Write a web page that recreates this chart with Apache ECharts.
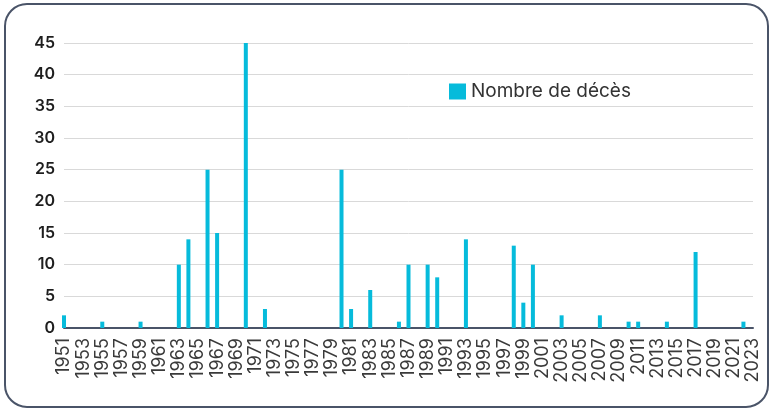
<!DOCTYPE html>
<html>
<head>
<meta charset="utf-8">
<title>Nombre de décès par année</title>
<script src="https://cdn.jsdelivr.net/npm/echarts@6/dist/echarts.min.js"></script>
<style>
  html, body { margin: 0; padding: 0; background: #ffffff; }
  #chart { width: 774px; height: 409px; }
</style>
</head>
<body>
<div id="chart"></div>
<script>
// Years shown on the category axis
const years = [];
for (let y = 1951; y <= 2023; y++) years.push(String(y));

// Deaths per year, 1951 → 2023
const deaths = [
  2, 0, 0, 0, 1, 0, 0, 0, 1, 0,      // 1951-1960
  0, 0, 10, 14, 0, 25, 15, 0, 0, 45, // 1961-1970
  0, 3, 0, 0, 0, 0, 0, 0, 0, 25,     // 1971-1980
  3, 0, 6, 0, 0, 1, 10, 0, 10, 8,    // 1981-1990
  0, 0, 14, 0, 0, 0, 0, 13, 4, 10,   // 1991-2000
  0, 0, 2, 0, 0, 0, 2, 0, 0, 1,      // 2001-2010
  1, 0, 0, 1, 0, 0, 12, 0, 0, 0,     // 2011-2020
  0, 1, 0                            // 2021-2023
];

const seriesName = 'Nombre de décès';
const yTicks = { min: 0, max: 45, interval: 5 };

const chart = echarts.init(document.getElementById('chart'), null, { renderer: 'canvas' });

chart.setOption({
  backgroundColor: '#ffffff',
  animation: false,
  graphic: [{
    type: 'rect',
    shape: { x: 5, y: 4, width: 763, height: 403, r: 22 },
    style: { fill: 'none', stroke: '#4a5468', lineWidth: 2 },
    silent: true,
    z: -1
  }],
  legend: {
    data: [seriesName],
    left: 444,
    top: 77,
    itemWidth: 17,
    itemHeight: 16,
    itemGap: 10,
    icon: 'rect',
    textStyle: { fontFamily: 'Inter', fontSize: 19, color: '#333333' }
  },
  grid: { left: 64, right: 21, top: 43, bottom: 81 },
  xAxis: {
    type: 'category',
    data: years,
    boundaryGap: false,
    axisLine: { lineStyle: { color: '#4a5468', width: 2 } },
    axisTick: { show: false },
    axisLabel: {
      interval: 1,
      rotate: 90,
      margin: 10,
      fontFamily: 'Inter',
      fontSize: 18,
      color: '#3a3a3a',
      padding: [0, 0, 12, 0]
    },
    splitLine: { show: false }
  },
  yAxis: {
    type: 'value',
    min: yTicks.min,
    max: yTicks.max,
    interval: yTicks.interval,
    axisLine: { show: false },
    axisTick: { show: false },
    axisLabel: {
      margin: 9,
      fontFamily: 'Inter',
      fontSize: 16,
      fontWeight: 600,
      color: '#1e1e1e'
    },
    splitLine: { lineStyle: { color: '#d9d9d9', width: 1 } }
  },
  series: [{
    name: seriesName,
    type: 'bar',
    data: deaths,
    barWidth: 4,
    clip: false,
    itemStyle: { color: '#06bbdb' }
  }]
});
</script>
</body>
</html>
